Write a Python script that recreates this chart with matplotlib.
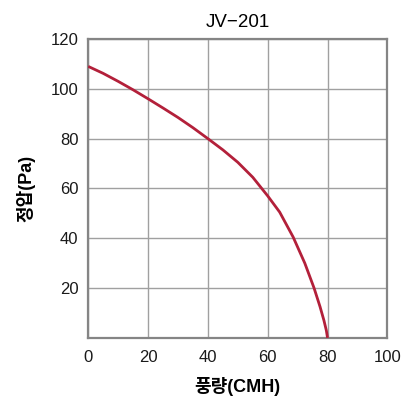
import matplotlib.pyplot as plt

plt.rcParams['font.family'] = ['Liberation Sans', 'Noto Sans CJK KR', 'DejaVu Sans']

# 풍량(CMH) vs 정압(Pa)
flow = [0, 5, 10, 15, 20, 25, 30, 35, 40, 45, 50, 55, 60, 64, 68.5, 72.4, 75.5, 77.5, 78.8, 79.6, 80]
pressure = [109, 106.2, 103, 99.6, 96, 92.3, 88.5, 84.4, 80, 75.5, 70.5, 64.5, 57, 50.5, 40.5, 30, 20, 12.5, 7, 3, 0]

x_ticks = [0, 20, 40, 60, 80, 100]
y_ticks = [20, 40, 60, 80, 100, 120]

fig = plt.figure(figsize=(4.01, 3.98), dpi=100)
ax = fig.add_axes([0.220, 0.151, 0.746, 0.751])

ax.plot(flow, pressure, color='#b3203a', linewidth=2.0, solid_capstyle='butt',
        solid_joinstyle='round', zorder=3)

ax.set_xlim(0, 100)
ax.set_ylim(0, 120)
ax.set_xticks(x_ticks)
ax.set_yticks(y_ticks)
ax.grid(True, color='#a0a0a0', linewidth=1.0)
ax.tick_params(axis='y', length=0, labelsize=12, pad=7, colors='#1a1a1a')
ax.tick_params(axis='x', length=0, labelsize=12, pad=9, colors='#1a1a1a')
for s in ax.spines.values():
    s.set_color('#858585')
    s.set_linewidth(1.6)

ax.set_title('JV\u2212201', fontsize=13.5, pad=9)
ax.set_xlabel('풍량(CMH)', fontsize=13, fontweight='bold', labelpad=8)
ax.set_ylabel('정압(Pa)', fontsize=13, fontweight='bold', labelpad=11)

fig.savefig('out.png', dpi=100)
